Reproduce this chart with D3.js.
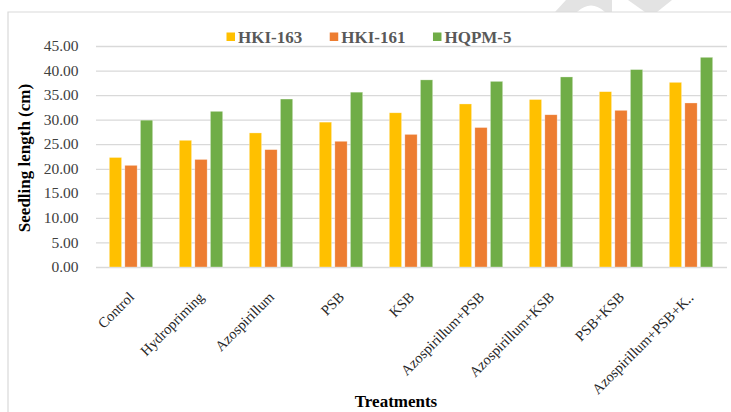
<!DOCTYPE html>
<html>
<head>
<meta charset="utf-8">
<script src="https://cdn.jsdelivr.net/npm/d3@7"></script>
<style>
	body { margin: 0; background: #fff; }
	svg { display: block; font-family: "Liberation Serif", "Times New Roman", serif; }
	.ytick-label { font-size: 15.5px; fill: #404040; }
	.cat-label { font-size: 14.5px; fill: #262626; }
	.axis-title { font-size: 17px; font-weight: bold; fill: #000; }
	.leg-label { font-size: 17px; font-weight: bold; fill: #595959; }
</style>
</head>
<body>
<svg id="chartsvg"></svg>
<script>
// data
var treatments = ["Control", "Hydropriming", "Azospirillum", "PSB", "KSB",
	"Azospirillum+PSB", "Azospirillum+KSB", "PSB+KSB", "Azospirillum+PSB+K\u2025"];
var seriesNames = ["HKI-163", "HKI-161", "HQPM-5"];
var hki163 = [22.3, 25.8, 27.3, 29.5, 31.4, 33.2, 34.1, 35.7, 37.6];
var hki161 = [20.7, 21.9, 23.9, 25.6, 27.0, 28.4, 31.0, 31.9, 33.4];
var hqpm5 = [29.9, 31.7, 34.2, 35.6, 38.1, 37.8, 38.7, 40.2, 42.7];
var yTicks = [0, 5, 10, 15, 20, 25, 30, 35, 40, 45];
var colors = ["#FFC000", "#ED7D31", "#70AD47"];

var W = 731, H = 412;
var plot = {left: 96, right: 726, top: 46, bottom: 267};

var svg = d3.select("#chartsvg").attr("width", W).attr("height", H);

// faint watermark remnants at the top edge
svg.append("path")
	.attr("d", "M555,12 L566,0 L612,0 L612,12 L605,12 Q591,-1 577,12 Z M628,0 L672,0 L657,12 L645,12 Z")
	.attr("fill", "#e3e3e3");

// chart frame (only left/top visible)
svg.append("path").attr("d", "M8," + H + " V12 H" + W)
	.attr("fill", "none").attr("stroke", "#d9d9d9").attr("stroke-width", 1.2);

var y = d3.scaleLinear().domain([0, 45]).range([plot.bottom, plot.top]);
var x0 = d3.scaleBand().domain(treatments).range([plot.left, plot.right])
	.paddingInner(0.38).paddingOuter(0.19);
var x1 = d3.scaleBand().domain(seriesNames).range([0, x0.bandwidth()]).paddingInner(0.21);

//gridlines only from the axis, labels drawn separately
var yAxis = d3.axisLeft(y).tickValues(yTicks).tickFormat("")
	.tickSize(-(plot.right + 1 - plot.left));
var ga = svg.append("g").attr("transform", "translate(" + plot.left + ",0)").call(yAxis);
ga.select(".domain").remove();
ga.selectAll(".tick line").attr("stroke", "#d9d9d9").attr("stroke-width", 1.3);

var fmt = d3.format(".2f");
svg.append("g").selectAll("text").data(yTicks).enter().append("text")
	.attr("class", "ytick-label")
	.attr("text-anchor", "end")
	.attr("x", 78.5)
	.attr("y", function(d) { return y(d); })
	.attr("dy", "0.33em")
	.text(function(d) { return fmt(d); });

var table = treatments.map(function(t, i) {
	return {cat: t, vals: [hki163[i], hki161[i], hqpm5[i]]};
});

var groups = svg.append("g").selectAll("g").data(table).enter().append("g")
	.attr("transform", function(d) { return "translate(" + x0(d.cat) + ",0)"; });
groups.selectAll("rect").data(function(d) {
		return d.vals.map(function(v, j) { return {name: seriesNames[j], v: v, c: colors[j]}; });
	}).enter().append("rect")
	.attr("x", function(d) { return x1(d.name); })
	.attr("width", x1.bandwidth())
	.attr("y", function(d) { return y(d.v); })
	.attr("height", function(d) { return y(0) - y(d.v); })
	.attr("fill", function(d) { return d.c; })
	.attr("stroke", "#fff").attr("stroke-opacity", 0.5).attr("stroke-width", 0.6);

//category labels, rotated
svg.append("g").selectAll("text").data(treatments).enter().append("text")
	.attr("class", "cat-label")
	.attr("text-anchor", "end")
	.attr("transform", function(d) {
		return "translate(" + (x0(d) + x0.bandwidth() / 2 + 4) + "," + (plot.bottom + 31) + ")rotate(-45)";
	})
	.text(function(d) { return d; });

//axis titles
svg.append("text").attr("class", "axis-title").attr("text-anchor", "middle")
	.attr("transform", "translate(30,158)rotate(-90)").text("Seedling length (cm)");
svg.append("text").attr("class", "axis-title").attr("text-anchor", "middle")
	.attr("x", 396).attr("y", 407).text("Treatments");

//legend
var leg = svg.append("g").attr("transform", "translate(226.5,37)");
var lx = 0;
seriesNames.forEach(function(n, i) {
	leg.append("rect").attr("x", lx).attr("y", -4.5).attr("width", 8.5).attr("height", 8.5).attr("fill", colors[i]);
	var t = leg.append("text").attr("class", "leg-label").attr("x", lx + 11.5).attr("y", 6).text(n);
	lx += 11.5 + t.node().getComputedTextLength() + 27.5;
});
</script>
</body>
</html>
